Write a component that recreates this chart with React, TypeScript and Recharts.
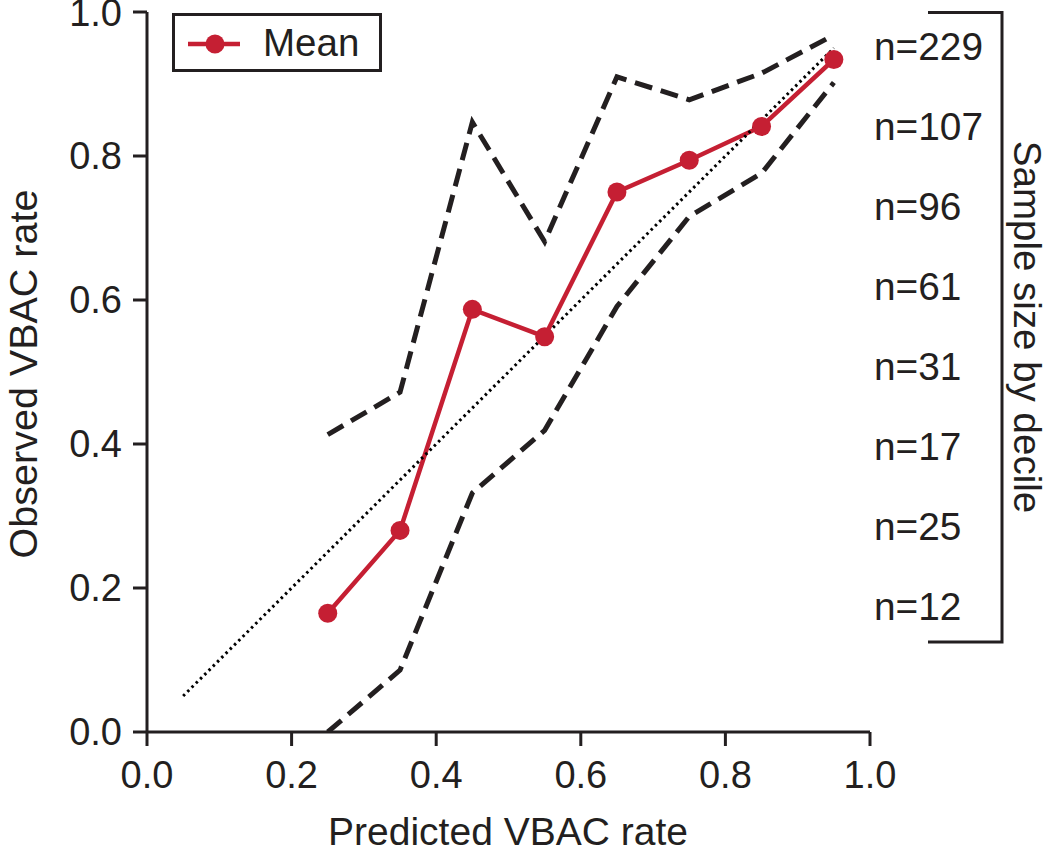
import React from 'react';
import { LineChart, Line, XAxis, YAxis, Legend, Customized } from 'recharts';

const deciles = [0.25, 0.35, 0.45, 0.55, 0.65, 0.75, 0.85, 0.95];
const meanObserved = [0.165, 0.28, 0.587, 0.549, 0.75, 0.794, 0.841, 0.934];
const upperBound = [0.413, 0.472, 0.847, 0.681, 0.91, 0.878, 0.915, 0.968];
const lowerBound = [0.0, 0.086, 0.332, 0.419, 0.591, 0.716, 0.776, 0.902];
const identityX = [0.05, 0.95];
const identityY = [0.05, 0.95];
const sampleSizes = [229, 107, 96, 61, 31, 17, 25, 12];
const xTicks = [0, 0.2, 0.4, 0.6, 0.8, 1.0];
const yTicks = [0, 0.2, 0.4, 0.6, 0.8, 1.0];
const seriesName = 'Mean';
const xLabel = 'Predicted VBAC rate';
const yLabel = 'Observed VBAC rate';
const sideLabel = 'Sample size by decile';

const calibData = deciles.map((x, i) => ({
  x,
  mean: meanObserved[i],
  upper: upperBound[i],
  lower: lowerBound[i],
}));
const identityData = identityX.map((x, i) => ({ x, ident: identityY[i] }));

const FONT = '"Liberation Sans", Arial, Helvetica, sans-serif';
const INK = '#231f20';
const RED = '#c51f33';

const LegendBox = () => (
  <svg width={212} height={61} style={{ display: 'block' }}>
    <rect x={1.5} y={1.5} width={207} height={56} fill="#fff" stroke={INK} strokeWidth={3} />
    <line x1={16} x2={68} y1={31} y2={31} stroke={RED} strokeWidth={4.5} />
    <circle cx={43} cy={31} r={9.5} fill={RED} />
    <text x={91} y={43} fontFamily={FONT} fontSize={38.5} fill={INK}>
      {seriesName}
    </text>
  </svg>
);

const Decorations = () => (
  <g>
    <text
      x={37}
      y={374}
      transform="rotate(-90, 37, 374)"
      textAnchor="middle"
      fontFamily={FONT}
      fontSize={39.5}
      fill={INK}
    >
      {yLabel}
    </text>
    <text x={508} y={845} textAnchor="middle" fontFamily={FONT} fontSize={39} fill={INK}>
      {xLabel}
    </text>
    {sampleSizes.map((n, i) => (
      <text key={n + '-' + i} x={874} y={60 + i * 80} fontFamily={FONT} fontSize={38.8} fill={INK}>
        {'n=' + n}
      </text>
    ))}
    <path d="M928,12.5 H1002 V642 H928" fill="none" stroke={INK} strokeWidth={3} />
    <text
      x={1014}
      y={327}
      transform="rotate(90, 1014, 327)"
      textAnchor="middle"
      fontFamily={FONT}
      fontSize={38.5}
      fill={INK}
    >
      {sideLabel}
    </text>
  </g>
);

export default function App() {
  return (
    <div style={{ position: 'absolute', left: 0, top: 0, width: 1050, height: 854, background: '#fff' }}>
      <LineChart
        width={1050}
        height={854}
        data={calibData}
        margin={{ top: 12, right: 180, bottom: 62, left: 87 }}
      >
        <XAxis
          dataKey="x"
          type="number"
          domain={[0, 1]}
          ticks={xTicks}
          tickFormatter={(v: number) => v.toFixed(1)}
          height={60}
          tickSize={14}
          tickMargin={15}
          axisLine={{ stroke: INK, strokeWidth: 3 }}
          tickLine={{ stroke: INK, strokeWidth: 3 }}
          tick={{ fill: INK, fontSize: 38, fontFamily: FONT }}
          interval={0}
          allowDataOverflow
        />
        <YAxis
          type="number"
          domain={[0, 1]}
          ticks={yTicks}
          tickFormatter={(v: number) => v.toFixed(1)}
          width={60}
          tickSize={14}
          tickMargin={11}
          axisLine={{ stroke: INK, strokeWidth: 3 }}
          tickLine={{ stroke: INK, strokeWidth: 3 }}
          tick={{ fill: INK, fontSize: 38, fontFamily: FONT }}
          interval={0}
          allowDataOverflow
        />
        <Legend
          layout="horizontal"
          verticalAlign="middle"
          align="center"
          content={() => <LegendBox />}
          wrapperStyle={{ left: 172, top: 13, width: 212, height: 61 }}
        />
        <Line
          dataKey="upper"
          type="linear"
          stroke={INK}
          strokeWidth={5}
          strokeDasharray="18 9"
          dot={false}
          activeDot={false}
          legendType="none"
          isAnimationActive={false}
        />
        <Line
          dataKey="lower"
          type="linear"
          stroke={INK}
          strokeWidth={5}
          strokeDasharray="18 9"
          dot={false}
          activeDot={false}
          legendType="none"
          isAnimationActive={false}
        />
        <Line
          dataKey="mean"
          name={seriesName}
          type="linear"
          stroke={RED}
          strokeWidth={4.5}
          dot={{ r: 9.5, fill: RED, stroke: 'none' }}
          activeDot={false}
          isAnimationActive={false}
        />
        <Line
          data={identityData}
          dataKey="ident"
          type="linear"
          stroke="#000"
          strokeWidth={3}
          strokeDasharray="2.5 3.5"
          dot={false}
          activeDot={false}
          legendType="none"
          isAnimationActive={false}
        />
        <Customized component={Decorations} />
      </LineChart>
    </div>
  );
}
